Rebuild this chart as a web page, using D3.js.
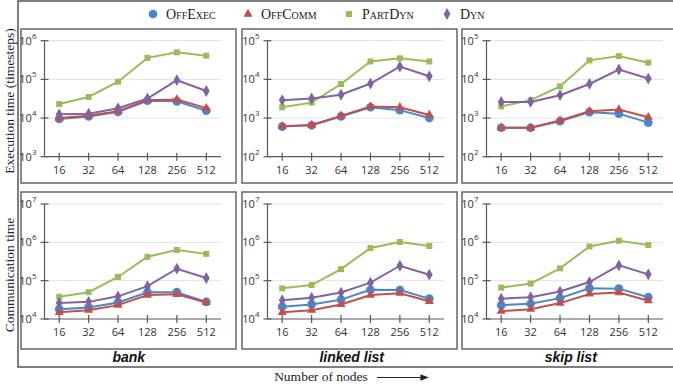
<!DOCTYPE html>
<meta charset="utf-8">
<style>
body { margin: 0; background: #fff; }
svg { display: block; }
.frame { fill: none; stroke: #555; stroke-width: 1.5px; }
.panel { fill: none; stroke: #666; stroke-width: 1.5px; }
.grid line { stroke: #e3e3e3; stroke-width: 1px; }
.axis line, .axis path { stroke: #595959; stroke-width: 1.2px; fill: none; }
.tick-label { font: 11px "Open Sans", sans-serif; fill: #333; }
.legend text { font: 14px "Liberation Serif", serif; font-variant: small-caps; fill: #222; }
.ytitle { font: 13.5px "Liberation Serif", serif; fill: #222; }
.coltitle { font: italic bold 14px "Liberation Sans", sans-serif; fill: #111; }
.series { fill: none; stroke-width: 2px; }
</style>
<body>
<svg width="673" height="387"></svg>
<script src="https://d3js.org/d3.v7.min.js"></script>
<script>
// x categories (number of nodes)
var nodes = ["16", "32", "64", "128", "256", "512"];
var seriesNames = ["OffExec", "OffComm", "PartDyn", "Dyn"];
var colors = ["#4a86c8", "#c0504d", "#9bbb59", "#8064a2"];
var columnTitles = ["bank", "linked list", "skip list"];

// execution time (timesteps), per series: OffExec, OffComm, PartDyn, Dyn
var bankExec = [
  [9500, 11000, 14500, 28000, 27000, 15500],
  [10000, 11500, 15000, 29000, 30000, 18000],
  [23000, 35000, 87000, 360000, 500000, 410000],
  [12500, 13000, 18000, 32000, 95000, 50000]
];
var linkedExec = [
  [600, 650, 1100, 1900, 1600, 1000],
  [610, 660, 1140, 2000, 1900, 1200],
  [1900, 2500, 7600, 29000, 35000, 29000],
  [2900, 3200, 4000, 7800, 21500, 12000]
];
var skipExec = [
  [560, 560, 830, 1420, 1300, 760],
  [560, 560, 860, 1500, 1660, 1050],
  [2000, 2900, 6600, 31000, 40000, 27000],
  [2600, 2600, 3900, 7600, 18000, 10500]
];

// communication time
var bankComm = [
  [18000, 20000, 27000, 50000, 50000, 28000],
  [15000, 17000, 23000, 42000, 44000, 27000],
  [38000, 50000, 125000, 420000, 630000, 500000],
  [26000, 28000, 39000, 72000, 205000, 117000]
];
var linkedComm = [
  [21000, 24000, 32000, 58000, 57000, 34000],
  [15000, 17000, 24000, 42000, 47000, 29000],
  [63000, 77000, 200000, 710000, 1020000, 800000],
  [31000, 36000, 49000, 89000, 245000, 143000]
];
var skipComm = [
  [23000, 25000, 35000, 63000, 62000, 37000],
  [16000, 18000, 26000, 45000, 49000, 30000],
  [66000, 84000, 210000, 780000, 1100000, 850000],
  [34000, 37000, 52000, 92000, 250000, 146000]
];

var execDomains = [[1e3, 1e6], [1e2, 1e5], [1e2, 1e5]];
var commDomain = [1e4, 1e7];

var svg = d3.select("svg");

// column and row geometry
var cols = [
  {x0: 21, x1: 236, left: 44.5, right: 221},
  {x0: 242, x1: 457, left: 267.5, right: 444},
  {x0: 462, x1: 690, left: 486.5, right: 663}
];
var rows = [
  {y0: 29, y1: 183, top: 40.7, bottom: 156.7},
  {y0: 192, y1: 349, top: 204, bottom: 319}
];

svg.append("rect").attr("class", "frame")
  .attr("x", 18).attr("y", 1).attr("width", 700).attr("height", 366);

var panels = [
  {col: 0, row: 0, data: bankExec, domain: execDomains[0]},
  {col: 1, row: 0, data: linkedExec, domain: execDomains[1]},
  {col: 2, row: 0, data: skipExec, domain: execDomains[2]},
  {col: 0, row: 1, data: bankComm, domain: commDomain},
  {col: 1, row: 1, data: linkedComm, domain: commDomain},
  {col: 2, row: 1, data: skipComm, domain: commDomain}
];

var symbols = [d3.symbolCircle, d3.symbolTriangle, d3.symbolSquare, d3.symbolDiamond];
var symSizes = [60, 36, 36, 40];

panels.forEach(function(p) {
  var c = cols[p.col], r = rows[p.row];

  svg.append("rect").attr("class", "panel")
    .attr("x", c.x0).attr("y", r.y0)
    .attr("width", c.x1 - c.x0).attr("height", r.y1 - r.y0);

  var x = d3.scalePoint().domain(nodes).range([c.left, c.right]).padding(0.5);
  var y = d3.scaleLog().domain(p.domain).range([r.bottom, r.top]);
  var decades = d3.range(Math.log10(p.domain[0]), Math.log10(p.domain[1]) + 1);

  var g = svg.append("g");

  // grid
  g.append("g").attr("class", "grid").selectAll("line")
    .data(decades.slice(1)).join("line")
    .attr("x1", c.left).attr("x2", c.right)
    .attr("y1", function(e) { return y(Math.pow(10, e)); })
    .attr("y2", function(e) { return y(Math.pow(10, e)); });

  // y axis
  var ya = g.append("g").attr("class", "axis");
  ya.append("line").attr("x1", c.left).attr("x2", c.left).attr("y1", r.top).attr("y2", r.bottom);
  ya.selectAll(".yt").data(decades).join("line").attr("class", "yt")
    .attr("x1", c.left - 4).attr("x2", c.left + 4)
    .attr("y1", function(e) { return y(Math.pow(10, e)); })
    .attr("y2", function(e) { return y(Math.pow(10, e)); });
  var yl = ya.selectAll(".ylab").data(decades).join("text").attr("class", "tick-label ylab")
    .attr("x", c.left - 8).attr("y", function(e) { return y(Math.pow(10, e)) + 4; })
    .attr("text-anchor", "end");
  yl.append("tspan").text("10");
  yl.append("tspan").attr("dy", -6).style("font-size", "8px").text(function(e) { return e; });

  // x axis
  var xa = g.append("g").attr("class", "axis");
  xa.append("line").attr("x1", c.left).attr("x2", c.right).attr("y1", r.bottom).attr("y2", r.bottom);
  xa.selectAll(".xt").data(nodes).join("line").attr("class", "xt")
    .attr("x1", function(d) { return x(d); }).attr("x2", function(d) { return x(d); })
    .attr("y1", r.bottom - 4).attr("y2", r.bottom + 4);
  xa.selectAll(".xlab").data(nodes).join("text").attr("class", "tick-label xlab")
    .attr("x", function(d) { return x(d); }).attr("y", r.bottom + 17)
    .attr("text-anchor", "middle").text(function(d) { return d; });

  // series
  var line = d3.line()
    .x(function(d, i) { return x(nodes[i]); })
    .y(function(d) { return y(d); });

  p.data.forEach(function(vals, si) {
    g.append("path").datum(vals).attr("class", "series")
      .attr("stroke", colors[si]).attr("d", line);
    g.selectAll(".m" + si).data(vals).join("path").attr("class", "m" + si)
      .attr("fill", colors[si])
      .attr("transform", function(d, i) { return "translate(" + x(nodes[i]) + "," + y(d) + ")"; })
      .attr("d", d3.symbol().type(symbols[si]).size(symSizes[si]));
  });
});

// column titles
columnTitles.forEach(function(t, i) {
  svg.append("text").attr("class", "coltitle")
    .attr("x", (cols[i].left + cols[i].right) / 2 - 4).attr("y", 362)
    .attr("text-anchor", "middle").text(t);
});

// y titles
svg.append("text").attr("class", "ytitle")
  .attr("transform", "translate(14,101) rotate(-90)")
  .attr("text-anchor", "middle").text("Execution time (timesteps)");
svg.append("text").attr("class", "ytitle")
  .attr("transform", "translate(14,275) rotate(-90)")
  .attr("text-anchor", "middle").text("Communication time");

// x title with arrow
svg.append("defs").append("marker").attr("id", "arr")
  .attr("viewBox", "0 0 10 10").attr("refX", 9).attr("refY", 5)
  .attr("markerWidth", 7).attr("markerHeight", 7).attr("orient", "auto")
  .append("path").attr("d", "M0,1L10,5L0,9Z").attr("fill", "#222");
svg.append("text").attr("class", "ytitle")
  .attr("x", 321).attr("y", 381).attr("text-anchor", "middle").text("Number of nodes");
svg.append("line").attr("x1", 377).attr("x2", 428).attr("y1", 377.5).attr("y2", 377.5)
  .attr("stroke", "#222").attr("stroke-width", 1.2).attr("marker-end", "url(#arr)");

// legend
var legendX = [153, 248, 349, 447];
var leg = svg.append("g").attr("class", "legend");
seriesNames.forEach(function(n, i) {
  leg.append("path").attr("fill", colors[i])
    .attr("transform", "translate(" + legendX[i] + ",14)")
    .attr("d", d3.symbol().type(symbols[i]).size(symSizes[i]));
  leg.append("text").attr("x", legendX[i] + 13).attr("y", 19).text(n);
});
</script>
</body>
